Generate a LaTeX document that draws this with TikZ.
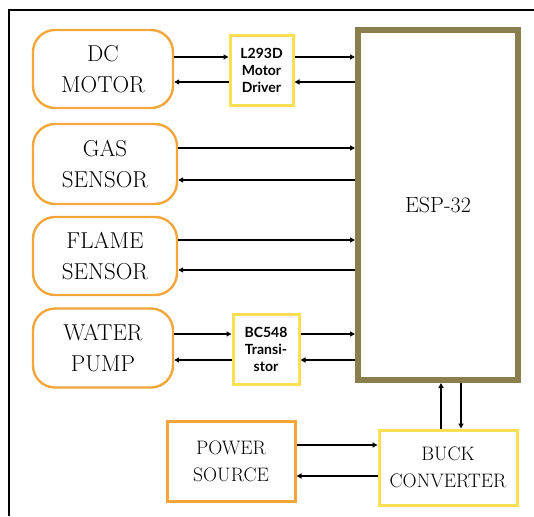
\documentclass[tikz,border=0pt]{standalone}
\usepackage{fontspec}
\usepackage{tikz}
\usetikzlibrary{arrows.meta}
\usetikzlibrary{positioning}
\newfontfamily\chipfont{Lato}
\definecolor{boxorange}{RGB}{242,166,60}
\definecolor{boxyellow}{RGB}{252,224,84}
\definecolor{espolive}{RGB}{138,126,78}
\tikzset{
    partbox/.style={
        draw=boxorange,
        line width=2.4pt,
        rounded corners=22pt,
        align=center,
        font=\fontsize{23}{31}\selectfont
    },
    chipbox/.style={
        draw=boxyellow,
        line width=3pt,
        align=center,
        font=\chipfont\bfseries\fontsize{14}{17}\selectfont
    },
    % signal lines between blocks
    sig/.style={
        line width=1.4pt,
        black,
        -{Triangle[length=5pt, width=5pt]}
    }
}
\begin{document}
\begin{tikzpicture}[x=1pt, y=-1pt]
	\useasboundingbox (0,0) rectangle (534,516);
	\draw[line width=2pt] (9,516) -- (9,10) -- (534,10);

	\node[partbox, minimum width=140pt, minimum height=78pt] (dc) at (103,69) {DC\\MOTOR};
	\node[partbox, minimum width=144pt, minimum height=80pt] (gas) at (105,164) {GAS\\SENSOR};
	\node[partbox, minimum width=144pt, minimum height=78pt] (flame) at (105,256) {FLAME\\SENSOR};
	\node[partbox, minimum width=140pt, minimum height=79pt] (pump) at (103,348) {WATER\\PUMP};

	\node[chipbox, minimum width=63pt, minimum height=69pt] (drv) at (261.5,70.5) {L293D\\Motor\\Driver};
	\node[chipbox, minimum width=66pt, minimum height=70pt] (trs) at (266,349) {BC548\\Transi-\\stor};

	\node[draw=espolive, line width=6pt, minimum width=160pt, minimum height=350pt,
		font=\fontsize{22}{26}\selectfont] (esp) at (438,205) {ESP-32};

	\node[draw=boxyellow, line width=3pt, minimum width=138pt, minimum height=75pt, align=center,
		font=\fontsize{19.5}{27}\selectfont] (buck) at (448,467.5) {BUCK\\CONVERTER};
	\node[draw=boxorange, line width=3pt, minimum width=128pt, minimum height=80pt, align=center,
		font=\fontsize{19.5}{27}\selectfont] (pwr) at (231,461) {POWER\\SOURCE};

	\draw[sig] ([yshift=12pt]dc.east) -- ([yshift=12pt]dc.east -| drv.west);
	\draw[sig] ([yshift=-13pt]dc.east -| drv.west) -- ([yshift=-13pt]dc.east);
	\draw[sig] ([yshift=12pt]dc.east -| drv.east) -- ([yshift=12pt]dc.east -| esp.west);
	\draw[sig] ([yshift=-13pt]dc.east -| esp.west) -- ([yshift=-13pt]dc.east -| drv.east);

	\draw[sig] ([yshift=16pt]gas.east) -- ([yshift=16pt]gas.east -| esp.west);
	\draw[sig] ([yshift=-16pt]gas.east -| esp.west) -- ([yshift=-16pt]gas.east);

	\draw[sig] ([yshift=16pt]flame.east) -- ([yshift=16pt]flame.east -| esp.west);
	\draw[sig] ([yshift=-14pt]flame.east -| esp.west) -- ([yshift=-14pt]flame.east);

	\draw[sig] ([yshift=14pt]pump.east) -- ([yshift=14pt]pump.east -| trs.west);
	\draw[sig] ([yshift=-12pt]pump.east -| trs.west) -- ([yshift=-12pt]pump.east);
	\draw[sig] ([yshift=14pt]pump.east -| trs.east) -- ([yshift=14pt]pump.east -| esp.west);
	\draw[sig] ([yshift=-12pt]pump.east -| esp.west) -- ([yshift=-12pt]pump.east -| trs.east);

	\draw[sig] ([xshift=-7pt]buck.north) -- ([xshift=-7pt]buck.north |- esp.south);
	\draw[sig] ([xshift=13pt]buck.north |- esp.south) -- ([xshift=13pt]buck.north);

	\draw[sig] ([yshift=16pt]pwr.east) -- ([yshift=16pt]pwr.east -| buck.west);
	\draw[sig] ([yshift=-15pt]pwr.east -| buck.west) -- ([yshift=-15pt]pwr.east);
\end{tikzpicture}
\end{document}
